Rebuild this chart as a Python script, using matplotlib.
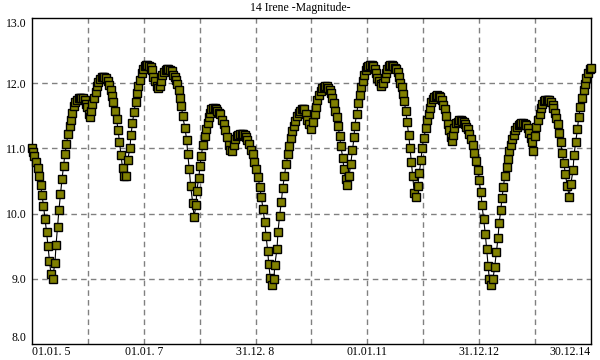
import matplotlib
matplotlib.use("Agg")
import matplotlib.pyplot as plt

# days since 2005-01-01
days = [0, 7, 16, 26, 36, 46, 56, 65, 75, 85, 95, 104, 114, 124, 134, 150, 157, 167, 176, 186,
        196, 206, 215, 225, 235, 245, 255, 264, 274, 284, 294, 304, 313, 323, 333, 343, 353, 362, 372, 379,
        385, 395, 405, 415, 424, 434, 444, 454, 464, 473, 483, 493, 503, 513, 522, 532, 542, 552, 562, 571,
        581, 591, 601, 614, 624, 640, 646, 656, 666, 676, 686, 695, 705, 715, 725, 735, 744, 754, 764, 774,
        784, 793, 803, 813, 823, 833, 842, 852, 862, 872, 882, 891, 901, 911, 921, 931, 940, 950, 960, 966,
        976, 984, 999, 1010, 1017, 1027, 1036, 1049, 1058, 1071, 1076, 1089, 1097, 1106, 1115, 1128, 1134, 1147, 1154, 1162,
        1172, 1182, 1192, 1202, 1211, 1221, 1230, 1241, 1252, 1262, 1273, 1284, 1293, 1303, 1317, 1328, 1339, 1348, 1358, 1368,
        1378, 1388, 1397, 1407, 1419, 1430, 1441, 1452, 1463, 1476, 1487, 1497, 1508, 1520, 1528, 1539, 1546, 1556, 1567, 1580,
        1585, 1600, 1606, 1617, 1628, 1637, 1648, 1659, 1672, 1678, 1689, 1698, 1709, 1719, 1730, 1742, 1751, 1761, 1771, 1779,
        1789, 1798, 1809, 1824, 1835, 1845, 1855, 1864, 1874, 1884, 1894, 1904, 1913, 1923, 1933, 1943, 1951, 1961, 1972, 1979,
        1990, 1998, 2009, 2016, 2029, 2037, 2048, 2055, 2070, 2081, 2092, 2103, 2107, 2120, 2129, 2140, 2148, 2159, 2168, 2179,
        2188, 2197, 2207, 2217, 2227, 2237, 2244, 2255, 2266, 2276, 2282, 2292, 2302, 2310, 2318, 2328, 2338, 2348, 2357, 2367,
        2377, 2387, 2397, 2406, 2414, 2421, 2429, 2442, 2449, 2460, 2468, 2477, 2486, 2496, 2508, 2519, 2529, 2540, 2547, 2558,
        2573, 2579, 2590, 2599, 2607, 2617, 2625, 2635, 2645, 2655, 2664, 2674, 2682, 2695, 2703, 2715, 2723, 2733, 2743, 2751,
        2758, 2769, 2779, 2788, 2798, 2808, 2818, 2828, 2837, 2845, 2856, 2867, 2878, 2888, 2899, 2910, 2917, 2932, 2938, 2949,
        2960, 2969, 2978, 2986, 2999, 3010, 3021, 3032, 3043, 3050, 3061, 3069, 3078, 3087, 3102, 3108, 3115, 3126, 3134, 3145,
        3156, 3167, 3177, 3187, 3196, 3206, 3216, 3226, 3236, 3245, 3255, 3264, 3272, 3283, 3294, 3305, 3316, 3322, 3330, 3340,
        3350, 3360, 3369, 3379, 3389, 3399, 3405, 3413, 3424, 3435, 3441, 3452, 3461, 3474, 3482, 3496, 3507, 3518, 3533, 3539,
        3550, 3561, 3570, 3580, 3591, 3602, 3609, 3619, 3631, 3642, 3650]

magnitude = [11.01, 10.95, 10.88, 10.79, 10.70, 10.58, 10.44, 10.29, 10.12, 9.92, 9.72, 9.51, 9.28, 9.07, 9.00, 9.25, 9.52, 9.80, 10.06, 10.30,
             10.53, 10.73, 10.91, 11.06, 11.22, 11.34, 11.44, 11.55, 11.65, 11.71, 11.75, 11.77, 11.78, 11.78, 11.77, 11.74, 11.68, 11.64, 11.52, 11.48,
             11.58, 11.68, 11.78, 11.87, 11.95, 12.02, 12.06, 12.09, 12.10, 12.10, 12.08, 12.04, 11.97, 11.89, 11.81, 11.71, 11.58, 11.45, 11.28, 11.10,
             10.90, 10.70, 10.58, 10.58, 10.82, 11.01, 11.20, 11.39, 11.56, 11.71, 11.85, 11.96, 12.05, 12.16, 12.22, 12.26, 12.28, 12.28, 12.27, 12.25,
             12.20, 12.10, 12.03, 11.96, 11.93, 11.95, 12.03, 12.12, 12.17, 12.20, 12.22, 12.22, 12.21, 12.18, 12.13, 12.09, 12.05, 11.99, 11.89, 11.77,
             11.65, 11.49, 11.31, 11.13, 10.91, 10.68, 10.42, 10.17, 9.95, 10.13, 10.35, 10.55, 10.73, 10.89, 11.05, 11.19, 11.30, 11.39, 11.48, 11.55,
             11.60, 11.62, 11.62, 11.60, 11.57, 11.54, 11.52, 11.44, 11.37, 11.28, 11.17, 11.05, 10.98, 10.96, 11.05, 11.14, 11.19, 11.21, 11.22, 11.22,
             11.22, 11.20, 11.17, 11.13, 11.07, 10.98, 10.91, 10.79, 10.69, 10.56, 10.41, 10.26, 10.07, 9.87, 9.66, 9.43, 9.22, 9.01, 8.90, 9.00,
             9.21, 9.46, 9.72, 9.97, 10.18, 10.39, 10.58, 10.76, 10.91, 11.04, 11.16, 11.26, 11.34, 11.42, 11.49, 11.55, 11.58, 11.60, 11.61, 11.60,
             11.53, 11.44, 11.37, 11.29, 11.40, 11.52, 11.64, 11.74, 11.82, 11.88, 11.92, 11.94, 11.95, 11.95, 11.93, 11.89, 11.85, 11.78, 11.70, 11.58,
             11.48, 11.34, 11.19, 11.04, 10.86, 10.68, 10.53, 10.44, 10.57, 10.76, 10.97, 11.17, 11.35, 11.52, 11.69, 11.82, 11.94, 12.04, 12.13, 12.21,
             12.25, 12.27, 12.28, 12.28, 12.26, 12.22, 12.16, 12.08, 12.04, 11.99, 11.96, 12.00, 12.08, 12.16, 12.22, 12.26, 12.28, 12.28, 12.27, 12.24,
             12.22, 12.17, 12.09, 12.01, 11.94, 11.84, 11.72, 11.57, 11.40, 11.20, 11.01, 10.79, 10.57, 10.32, 10.26, 10.42, 10.63, 10.82, 11.00, 11.16,
             11.32, 11.43, 11.53, 11.62, 11.71, 11.76, 11.79, 11.81, 11.82, 11.81, 11.79, 11.75, 11.67, 11.60, 11.49, 11.37, 11.28, 11.18, 11.11, 11.21,
             11.32, 11.39, 11.41, 11.43, 11.43, 11.42, 11.41, 11.37, 11.33, 11.29, 11.22, 11.15, 11.05, 10.93, 10.81, 10.67, 10.52, 10.33, 10.13, 9.92,
             9.68, 9.45, 9.20, 9.00, 8.90, 9.00, 9.18, 9.41, 9.63, 9.85, 10.06, 10.24, 10.41, 10.58, 10.71, 10.84, 10.96, 11.05, 11.14, 11.21,
             11.28, 11.33, 11.36, 11.38, 11.39, 11.39, 11.38, 11.36, 11.31, 11.24, 11.16, 11.10, 10.96, 11.19, 11.33, 11.44, 11.53, 11.62, 11.68, 11.72,
             11.74, 11.75, 11.75, 11.74, 11.71, 11.66, 11.62, 11.55, 11.47, 11.37, 11.24, 11.10, 10.93, 10.77, 10.60, 10.42, 10.26, 10.45, 10.67, 10.90,
             11.10, 11.29, 11.48, 11.63, 11.77, 11.89, 11.99, 12.08, 12.16, 12.22, 12.24]

xtick_days = [0, 730, 1460, 2190, 2920, 3650]
xtick_labels = ["01.01. 5", "01.01. 7", "31.12. 8", "01.01.11", "31.12.12", "30.12.14"]
ytick_values = [8.0, 9.0, 10.0, 11.0, 12.0, 13.0]
ytick_labels = ["8.0", "9.0", "10.0", "11.0", "12.0", "13.0"]
title = "14 Irene -Magnitude-"

plt.rcParams['font.family'] = ['Liberation Serif', 'DejaVu Serif']

fig = plt.figure(figsize=(6, 3.6), dpi=100)
ax = fig.add_axes([32/600, 16/360, 559/600, 326/360])

# grid
for d in range(365, 3650, 365):
    ax.axvline(d, color='#808080', lw=1, ls=(0, (4, 3)), zorder=1)
for v in [9, 10, 11, 12]:
    ax.axhline(v, color='#808080', lw=1, ls=(0, (4, 3)), zorder=1)

ax.plot(days, magnitude, color='black', lw=0.8, marker='s', markersize=5.6,
        markerfacecolor='#808000', markeredgecolor='black', markeredgewidth=1.0,
        zorder=3, clip_on=False)

ax.set_xlim(0, 3650)
ax.set_ylim(8.0, 13.0)

ax.set_xticks(xtick_days)
ax.set_xticklabels(xtick_labels, fontsize=8.5)
ax.set_yticks(ytick_values)
ax.set_yticklabels(ytick_labels, fontsize=8.5)
ax.tick_params(axis='x', length=0, pad=1.5)
ax.tick_params(axis='y', length=0, pad=4)
xl = ax.get_xticklabels()
xl[0].set_horizontalalignment('left')
xl[-1].set_horizontalalignment('right')
yl = ax.get_yticklabels()
yl[0].set_verticalalignment('bottom')
yl[-1].set_verticalalignment('top')

for s in ax.spines.values():
    s.set_color('black')
    s.set_linewidth(1.0)

fig.text(0.5, 1 - 8/360, title, ha='center', va='center', fontsize=8.5)

fig.savefig("out.png", dpi=100)
